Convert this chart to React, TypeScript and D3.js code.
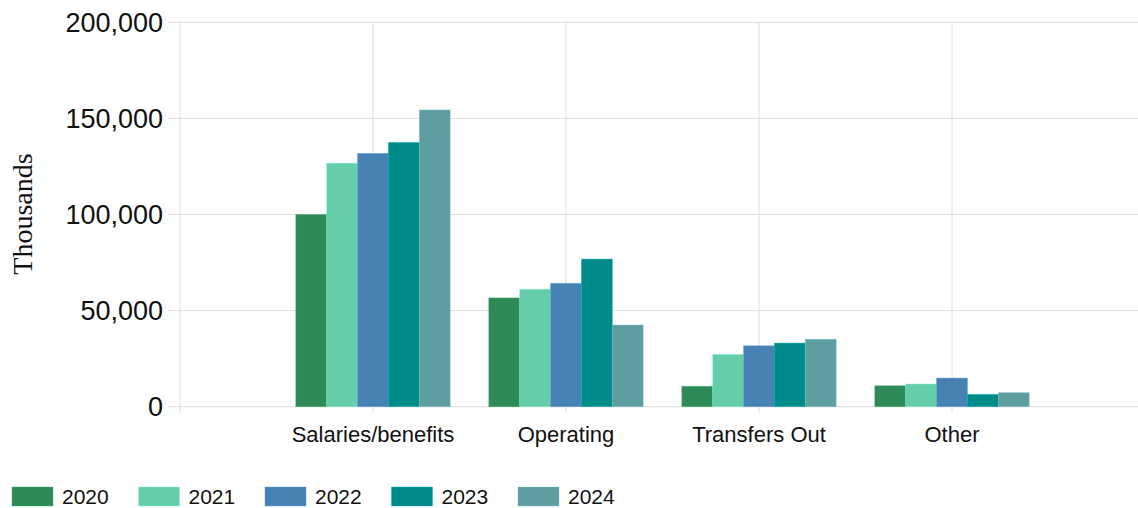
import React from "react";
import * as d3 from "d3";

const categories = ["Salaries/benefits", "Operating", "Transfers Out", "Other"];
const years = ["2020", "2021", "2022", "2023", "2024"];
const colors = ["#2E8B57", "#66CDAA", "#4682B4", "#008B8B", "#5F9EA0"];
const values2020 = [100000, 56600, 10600, 10900];
const values2021 = [126700, 61100, 27200, 11800];
const values2022 = [131800, 64200, 31700, 14900];
const values2023 = [137500, 76800, 33100, 6400];
const values2024 = [154400, 42500, 35100, 7300];
const series = [values2020, values2021, values2022, values2023, values2024];
const yTicks = [0, 50000, 100000, 150000, 200000];
const yLabel = "Thousands";

const W = 1138;
const H = 508;
const left = 180;
const right = 1138;
const top = 22.3;
const bottom = 406.7;
const step = 193;

export default function App() {
  const x = d3.scaleLinear().domain([0, 5]).range([left, left + 5 * step]);
  const groupW = step * 0.8;
  const x1 = d3.scaleBand<string>().domain(years).range([-groupW / 2, groupW / 2]).paddingInner(0);
  const y = d3.scaleLinear().domain([0, 200000]).range([bottom, top]);
  const fmt = d3.format(",");
  const sans = "'Liberation Sans', Arial, sans-serif";
  const gridColor = "#dedede";

  return (
    <svg width={W} height={H} style={{ position: "absolute", left: 0, top: 0, background: "#fff" }}>
      {yTicks.map((t) => (
        <g key={"y" + t}>
          <line x1={168} x2={right} y1={y(t)} y2={y(t)} stroke={gridColor} strokeWidth={1} />
          <text x={163} y={y(t)} dy="0.35em" textAnchor="end" fontFamily={sans} fontSize={27} fill="#111">
            {fmt(t)}
          </text>
        </g>
      ))}
      {d3.range(0, 5).map((i) => (
        <line key={"v" + i} x1={x(i)} x2={x(i)} y1={top} y2={bottom + 6} stroke={gridColor} strokeWidth={1} />
      ))}
      {categories.map((c, ci) => (
        <g key={c} transform={`translate(${x(ci + 1)},0)`}>
          {series.map((s, si) => {
            const col = colors[si];
            const c2 = d3.color(col)!.brighter(0.6).formatHex();
            return (
              <rect
                key={years[si]}
                x={x1(years[si])}
                y={y(s[ci])}
                width={x1.bandwidth()}
                height={y(0) - y(s[ci])}
                fill={col}
                stroke={c2}
                strokeOpacity={0.5}
                strokeWidth={0.8}
              />
            );
          })}
          <text x={0} y={441.5} textAnchor="middle" fontFamily={sans} fontSize={22} fill="#111">
            {c}
          </text>
        </g>
      ))}
      <text
        transform={`translate(32,214) rotate(-90)`}
        textAnchor="middle"
        fontFamily="'Liberation Serif', 'Times New Roman', serif"
        fontSize={28}
        fill="#111"
      >
        {yLabel}
      </text>
      {years.map((yr, i) => (
        <g key={"l" + yr} transform={`translate(${12 + i * 126.5},0)`}>
          <rect x={0} y={487} width={41} height={19} fill={colors[i]} stroke={d3.color(colors[i])!.brighter(0.6).formatHex()} strokeOpacity={0.5} strokeWidth={0.8} />
          <text x={50} y={503.5} fontFamily={sans} fontSize={21} fill="#111">
            {yr}
          </text>
        </g>
      ))}
    </svg>
  );
}
